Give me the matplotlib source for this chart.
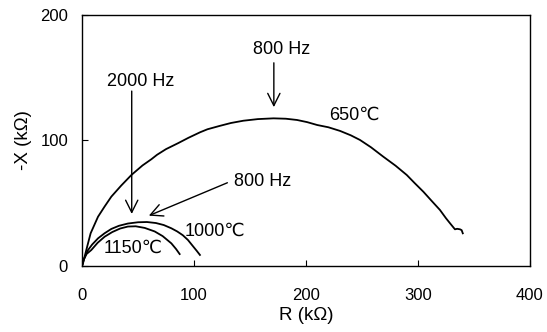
import matplotlib
matplotlib.use('Agg')
import matplotlib.pyplot as plt

plt.rcParams['font.family'] = ['Liberation Sans', 'DejaVu Sans']

# 650 C
r650 = [0, 0.9, 2.5, 5.4, 7.7, 14.3, 20.1, 26.2, 35, 44.2, 54, 62, 67, 75, 85.7,
        95, 105.4, 112, 123, 133, 144, 157, 171, 182, 192, 201, 210, 220, 230.4,
        240, 248.2, 258, 269, 280, 290, 297, 304.8, 312, 319.6, 325, 328.6, 333,
        335, 337.5, 339, 340]
x650 = [0, 2.1, 8, 18.1, 26, 39.2, 47.2, 55.2, 64, 72.5, 80, 85, 88.5, 93, 97.7,
        102, 106.4, 108.8, 111.5, 113.8, 115.6, 116.9, 117.5, 117.2, 116.2, 114.5,
        112.2, 110.4, 107.5, 104, 100.3, 94.5, 87, 79.8, 72.4, 66, 59.1, 52, 44.6,
        38, 34, 29.2, 29.6, 29.2, 28.5, 26]
# 1000 C
r1000 = [0, 1.5, 5.4, 9, 14.3, 20.1, 26.2, 33, 41, 50, 58, 66, 73, 79.8, 85, 90,
         94.6, 99.4, 102.5, 105.3]
x1000 = [0, 5, 12.7, 17, 22, 26, 29.5, 32, 33.8, 34.8, 35, 34.2, 32.6, 30, 27.5,
         24.5, 20.7, 15.4, 12, 8.8]
# 1150 C
r1150 = [0, 1.5, 4, 8.3, 14, 20.2, 27, 34, 41, 48, 56, 64.9, 72, 79.8, 84, 87.2]
x1150 = [0, 5, 9.5, 12.7, 18.5, 23.3, 27, 29.8, 31.4, 31.6, 30.3, 27.5, 23.8, 18,
         13.5, 9.5]

fig = plt.figure(figsize=(5.47, 3.32), dpi=100)
ax = fig.add_axes([0.1499, 0.1988, 0.819, 0.757])

for r, x in [(r650, x650), (r1000, x1000), (r1150, x1150)]:
    ax.plot(r, x, color='black', lw=1.3)

fs = 13
arrow = dict(arrowstyle='->', color='black', lw=1.0, mutation_scale=22)
ax.annotate('', xy=(44.4, 39.2), xytext=(44.4, 141.4), arrowprops=arrow)
ax.text(52.8, 146.7, '2000 Hz', ha='center', va='center', fontsize=fs)
ax.annotate('', xy=(171.3, 124.2), xytext=(171.3, 163.9), arrowprops=arrow)
ax.text(178.1, 171.9, '800 Hz', ha='center', va='center', fontsize=fs)
ax.annotate('', xy=(57.4, 39.2), xytext=(132.1, 67.1), arrowprops=arrow)
ax.text(161.6, 67.6, '800 Hz', ha='center', va='center', fontsize=fs)

ax.text(243.5, 120.2, '650℃', ha='center', va='center', fontsize=fs)
ax.text(119, 27.3, '1000℃', ha='center', va='center', fontsize=fs)
ax.text(45.9, 14.1, '1150℃', ha='center', va='center', fontsize=fs)

ax.set_xlim(0, 400)
ax.set_ylim(0, 200)
ax.set_xticks([0, 100, 200, 300, 400])
ax.set_yticks([0, 100, 200])
ax.tick_params(direction='in', length=4, width=0.8, labelsize=12)
ax.tick_params(axis='x', pad=16)
ax.tick_params(axis='y', pad=10)
ax.set_xlabel('R (kΩ)', fontsize=13.5, labelpad=3)
ax.set_ylabel('-X (kΩ)', fontsize=13.5, labelpad=6)
for s in ax.spines.values():
    s.set_linewidth(1.0)

fig.savefig('out.png', dpi=100)
